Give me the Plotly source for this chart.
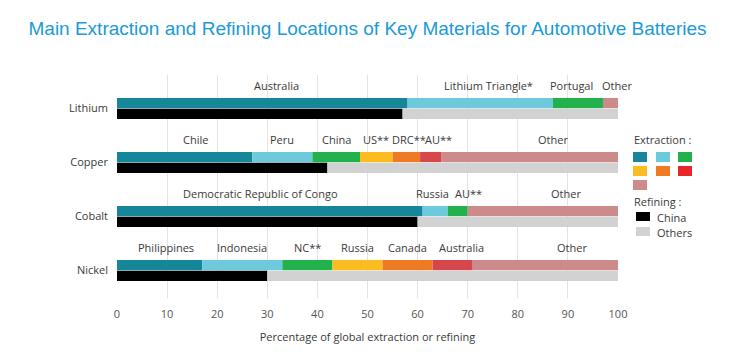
import plotly.graph_objects as go

# ---------------- data ----------------
materials = ["Lithium", "Copper", "Cobalt", "Nickel"]

lithium_countries = ["Australia", "Lithium Triangle*", "Portugal", "Other"]
lithium_extraction = [58, 29, 10, 3]

copper_countries = ["Chile", "Peru", "China", "US**", "DRC**", "AU**", "Other"]
copper_extraction = [27, 12, 9.5, 6.5, 5.5, 4.3, 35.2]

cobalt_countries = ["Democratic Republic of Congo", "Russia", "AU**", "Other"]
cobalt_extraction = [61, 5, 4, 30]

nickel_countries = ["Philippines", "Indonesia", "NC**", "Russia", "Canada", "Australia", "Other"]
nickel_extraction = [17, 16, 10, 10, 10, 8, 29]

china_refining = [57, 42, 60, 30]

x_ticks = [0, 10, 20, 30, 40, 50, 60, 70, 80, 90, 100]
x_title = "Percentage of global extraction or refining"
title = "Main Extraction and Refining Locations of Key Materials for Automotive Batteries"

# ---------------- styles ----------------
seg_colors = ["#16879a", "#6dc9dc", "#22b14c", "#fbbc1f", "#ee7b24", "#d6474b"]
other_color = "#cc8a8a"
legend_red = "#e8262a"
china_color = "#000000"
others_color = "#d2d2d2"
text_color = "#3a3a3a"
FONT = "Open Sans"

all_countries = [lithium_countries, copper_countries, cobalt_countries, nickel_countries]
all_extraction = [lithium_extraction, copper_extraction, cobalt_extraction, nickel_extraction]
positions = [3, 2, 1, 0]
bar_w = 0.19
off = 0.1

# label tweaks (pixels)
label_shift = {("Lithium", "Australia"): 14, ("Lithium", "Lithium Triangle*"): 8,
               ("Lithium", "Portugal"): -6, ("Lithium", "Other"): 7,
               ("Copper", "Chile"): 11, ("Copper", "US**"): 0, ("Copper", "DRC**"): 3,
               ("Copper", "AU**"): 8, ("Copper", "Other"): 23,
               ("Cobalt", "Democratic Republic of Congo"): -9, ("Cobalt", "Russia"): -3,
               ("Cobalt", "AU**"): 11, ("Cobalt", "Other"): 23,
               ("Nickel", "Philippines"): 6, ("Nickel", "Indonesia"): 0,
               ("Nickel", "Australia"): 9, ("Nickel", "Other"): 27}

fig = go.Figure()
annotations = []

for mat, pos, countries, vals, china in zip(materials, positions, all_countries,
                                            all_extraction, china_refining):
    base = 0
    for k, (c, v) in enumerate(zip(countries, vals)):
        col = other_color if c == "Other" else seg_colors[k]
        fig.add_trace(go.Bar(y=[pos + off], x=[v], base=[base], orientation="h",
                             width=bar_w, marker=dict(color=col, line=dict(width=0)),
                             showlegend=False, hoverinfo="x+text", hovertext=[c], name=c))
        annotations.append(dict(x=base + v / 2, y=pos + 0.42, xref="x", yref="y",
                                text=c, showarrow=False, xanchor="center", yanchor="middle",
                                xshift=label_shift.get((mat, c), 0),
                                font=dict(family=FONT, size=11, color=text_color)))
        base += v
    fig.add_trace(go.Bar(y=[pos - off], x=[china], base=[0], orientation="h", width=bar_w,
                         marker=dict(color=china_color, line=dict(width=0)),
                         showlegend=False, name="China"))
    fig.add_trace(go.Bar(y=[pos - off], x=[100 - china], base=[china], orientation="h",
                         width=bar_w, marker=dict(color=others_color, line=dict(width=0)),
                         showlegend=False, name="Others"))

# ---------------- custom legend ----------------
# the page body adds an 8px offset; figure is sized to fit inside the window
PAD = 8
W, H = 735 - PAD, 355 - PAD
L, T = 117 - PAD, 75 - PAD
R = W - L - 501
B = H - (298 - PAD)
pw, ph = W - L - R, H - T - B


def px(x):
    return (x - PAD - L) / pw


def py(y):
    return (H - B - (y - PAD)) / ph


shapes = []
legend_cols = [[seg_colors[0], seg_colors[1], seg_colors[2]],
               [seg_colors[3], seg_colors[4], legend_red],
               [other_color]]
row_y = [152, 166, 180]
col_x = [633, 656, 678]
for r, row in enumerate(legend_cols):
    for c, col in enumerate(row):
        shapes.append(dict(type="rect", xref="paper", yref="paper",
                           x0=px(col_x[c]), x1=px(col_x[c] + 14),
                           y0=py(row_y[r] + 10), y1=py(row_y[r]),
                           fillcolor=col, line=dict(width=0), layer="above"))
for yy, col in [(212, china_color), (227, others_color)]:
    shapes.append(dict(type="rect", xref="paper", yref="paper",
                       x0=px(636), x1=px(650), y0=py(yy + 9), y1=py(yy),
                       fillcolor=col, line=dict(width=0), layer="above"))

for txt, xx, yy in [("Extraction :", 632, 139), ("Refining :", 632, 201),
                    ("China", 655, 217), ("Others", 655, 232)]:
    annotations.append(dict(x=px(xx), y=py(yy), xref="paper", yref="paper", text=txt,
                            showarrow=False, xanchor="left", yanchor="middle",
                            font=dict(family=FONT, size=11, color=text_color)))

fig.update_layout(
    width=W, height=H,
    margin=dict(l=L, r=R, t=T, b=B),
    paper_bgcolor="white", plot_bgcolor="white",
    barmode="overlay",
    title=dict(text=title, x=0.5, xref="paper", xanchor="center",
               y=1 - (28 - PAD) / H, yanchor="middle",
               font=dict(family="Liberation Sans, Arial", size=19, color="#1a9ad6")),
    xaxis=dict(range=[0, 100], tickvals=x_ticks, showgrid=True, gridcolor="#e3e3e3",
               gridwidth=1, zeroline=False, showline=False, ticks="",
               ticklabelstandoff=8,
               tickfont=dict(family=FONT, size=11, color="#555555"),
               title=dict(text=x_title, standoff=13,
                          font=dict(family=FONT, size=11, color=text_color))),
    yaxis=dict(range=[-0.51, 3.62], tickvals=positions, ticktext=materials,
               showgrid=False, zeroline=False, showline=False, ticks="",
               ticklabelstandoff=8,
               tickfont=dict(family=FONT, size=11, color=text_color)),
    shapes=shapes,
    annotations=annotations,
)

fig.write_html("out.html")
